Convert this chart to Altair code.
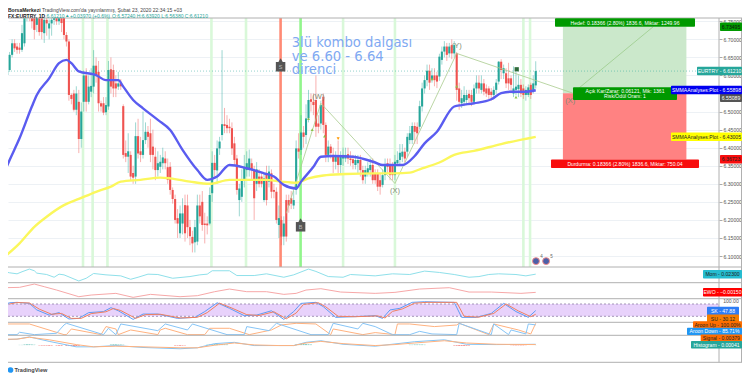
import altair as alt
import pandas as pd

bar_open = [
 6.546,6.601,6.615,6.657,6.689,6.680,6.677,6.671,6.689,6.76,
 6.80,6.78,6.76,6.74,6.76,6.76,6.717,6.754,6.73,6.744,
 6.754,6.76,6.75,6.77,6.76,6.712,6.694,6.546,6.55,6.505,
 6.527,6.424,6.527,6.60,6.527,6.555,6.569,6.627,6.61,6.523,
 6.523,6.498,6.514,6.617,6.615,6.578,6.569,6.578,6.515,6.385,
 6.375,6.38,6.33,6.32,6.432,6.39,6.38,6.421,6.444,6.44,
 6.403,6.375,6.338,6.347,6.357,6.37,6.346,6.347,6.283,6.258,
 6.205,6.163,6.19,6.241,6.24,6.18,6.153,6.138,6.14,6.24,
 6.25,6.19,6.19,6.19,6.274,6.358,6.337,6.398,6.435,6.465,
 6.463,6.458,6.454,6.412,6.37,6.255,6.264,6.31,6.338,6.338,
 6.357,6.338,6.30,6.32,6.32,6.255,6.329,6.306,6.329,6.283,
 6.278,6.186,6.20,6.154,6.255,6.255,6.26,6.24,6.283,6.398,
 6.394,6.442,6.435,6.481,6.534,6.527,6.532,6.467,6.467,6.541,
 6.463,6.38,6.403,6.38,6.361,6.375,6.352,6.37,6.37,6.382,
 6.37,6.368,6.352,6.357,6.366,6.338,6.32,6.329,6.338,6.352,
 6.329,6.329,6.31,6.297,6.324,6.357,6.352,6.352,6.324,6.357,
 6.366,6.375,6.389,6.389,6.421,6.421,6.46,6.458,6.458,6.514,
 6.564,6.587,6.613,6.587,6.60,6.60,6.597,6.643,6.666,6.68,
 6.661,6.684,6.661,6.661,6.564,6.523,6.527,6.532,6.549,6.546,
 6.527,6.564,6.58,6.56,6.578,6.564,6.564,6.555,6.546,6.56,
 6.583,6.638,6.606,6.606,6.592,6.592,6.55,6.56,6.562,6.574,
 6.564,6.546,6.546,6.574,6.56,6.5724]
bar_close = [
 6.601,6.611,6.657,6.689,6.675,6.671,6.671,6.717,6.77,6.79,
 6.77,6.75,6.726,6.76,6.72,6.72,6.754,6.744,6.744,6.754,
 6.76,6.75,6.77,6.745,6.712,6.694,6.546,6.535,6.505,6.55,
 6.424,6.50,6.60,6.527,6.569,6.571,6.627,6.601,6.523,6.514,
 6.497,6.518,6.615,6.569,6.564,6.564,6.578,6.57,6.38,6.375,
 6.39,6.32,6.317,6.432,6.384,6.38,6.421,6.444,6.43,6.38,
 6.38,6.338,6.357,6.361,6.373,6.357,6.311,6.283,6.258,6.20,
 6.19,6.218,6.218,6.163,6.18,6.155,6.135,6.18,6.24,6.21,
 6.186,6.186,6.185,6.269,6.358,6.338,6.398,6.417,6.465,6.46,
 6.454,6.454,6.398,6.366,6.283,6.287,6.31,6.347,6.357,6.37,
 6.338,6.26,6.34,6.30,6.30,6.315,6.255,6.334,6.278,6.278,
 6.20,6.205,6.154,6.19,6.154,6.24,6.245,6.255,6.398,6.389,
 6.442,6.43,6.481,6.532,6.527,6.518,6.458,6.458,6.518,6.463,
 6.38,6.403,6.385,6.361,6.375,6.352,6.375,6.38,6.38,6.37,
 6.366,6.357,6.366,6.366,6.338,6.31,6.338,6.343,6.352,6.31,
 6.31,6.292,6.292,6.324,6.352,6.347,6.324,6.324,6.361,6.366,
 6.386,6.389,6.37,6.43,6.44,6.46,6.444,6.44,6.515,6.564,
 6.587,6.613,6.58,6.60,6.587,6.583,6.652,6.666,6.68,6.657,
 6.68,6.661,6.684,6.56,6.527,6.537,6.546,6.546,6.537,6.527,
 6.564,6.58,6.564,6.578,6.555,6.55,6.546,6.546,6.56,6.58,
 6.638,6.615,6.62,6.578,6.578,6.574,6.564,6.569,6.574,6.55,
 6.546,6.56,6.567,6.546,6.578,6.6121]
bar_high = [
 6.605,6.615,6.665,6.70,6.70,6.69,6.69,6.74,6.80,6.81,
 6.82,6.80,6.78,6.78,6.79,6.78,6.78,6.77,6.755,6.77,
 6.78,6.78,6.79,6.79,6.78,6.72,6.70,6.55,6.56,6.57,
 6.56,6.525,6.61,6.62,6.60,6.62,6.67,6.65,6.64,6.53,
 6.54,6.54,6.64,6.65,6.63,6.60,6.61,6.59,6.52,6.42,
 6.44,6.39,6.35,6.47,6.48,6.43,6.50,6.47,6.46,6.48,
 6.45,6.40,6.39,6.38,6.40,6.39,6.37,6.36,6.29,6.27,
 6.23,6.24,6.26,6.27,6.27,6.20,6.17,6.20,6.27,6.27,
 6.28,6.22,6.21,6.29,6.39,6.38,6.42,6.43,6.67,6.51,
 6.49,6.48,6.47,6.43,6.38,6.30,6.34,6.38,6.39,6.395,
 6.37,6.35,6.36,6.34,6.33,6.33,6.35,6.35,6.34,6.30,
 6.29,6.24,6.21,6.21,6.27,6.27,6.28,6.28,6.42,6.44,
 6.49,6.46,6.52,6.56,6.55,6.55,6.60,6.49,6.53,6.55,
 6.47,6.42,6.41,6.40,6.39,6.42,6.39,6.40,6.40,6.40,
 6.39,6.38,6.38,6.38,6.38,6.35,6.35,6.36,6.37,6.37,
 6.34,6.34,6.33,6.34,6.37,6.37,6.37,6.36,6.38,6.39,
 6.41,6.41,6.40,6.44,6.46,6.47,6.47,6.47,6.53,6.58,
 6.60,6.63,6.63,6.62,6.62,6.61,6.66,6.68,6.695,6.69,
 6.69,6.70,6.695,6.665,6.58,6.56,6.57,6.56,6.56,6.56,
 6.575,6.60,6.60,6.60,6.59,6.575,6.57,6.565,6.57,6.59,
 6.64,6.645,6.63,6.62,6.635,6.60,6.625,6.61,6.60,6.59,
 6.575,6.57,6.575,6.58,6.60,6.6392]
bar_low = [
 6.543,6.598,6.61,6.65,6.665,6.66,6.66,6.665,6.68,6.75,
 6.75,6.73,6.70,6.72,6.71,6.70,6.69,6.71,6.70,6.71,
 6.74,6.74,6.74,6.72,6.70,6.68,6.53,6.52,6.50,6.49,
 6.385,6.40,6.50,6.50,6.52,6.54,6.55,6.58,6.50,6.50,
 6.49,6.49,6.505,6.55,6.54,6.54,6.56,6.56,6.37,6.36,
 6.33,6.31,6.30,6.30,6.37,6.36,6.37,6.41,6.40,6.36,
 6.34,6.31,6.32,6.33,6.34,6.34,6.30,6.27,6.245,6.19,
 6.15,6.15,6.16,6.14,6.15,6.13,6.11,6.11,6.13,6.19,
 6.17,6.135,6.16,6.185,6.25,6.32,6.30,6.38,6.42,6.44,
 6.44,6.44,6.38,6.35,6.27,6.21,6.25,6.29,6.32,6.32,
 6.31,6.20,6.28,6.29,6.29,6.25,6.24,6.29,6.26,6.26,
 6.19,6.15,6.13,6.13,6.14,6.22,6.23,6.23,6.27,6.37,
 6.38,6.40,6.41,6.47,6.50,6.49,6.43,6.44,6.45,6.44,
 6.36,6.36,6.37,6.33,6.34,6.33,6.33,6.35,6.36,6.355,
 6.35,6.34,6.34,6.33,6.32,6.30,6.30,6.32,6.32,6.30,
 6.30,6.28,6.27,6.29,6.31,6.33,6.31,6.31,6.31,6.35,
 6.35,6.36,6.36,6.375,6.41,6.41,6.41,6.41,6.45,6.50,
 6.55,6.57,6.56,6.58,6.57,6.565,6.585,6.63,6.65,6.64,
 6.65,6.645,6.65,6.53,6.505,6.51,6.515,6.52,6.52,6.515,
 6.52,6.55,6.55,6.55,6.545,6.54,6.535,6.53,6.54,6.55,
 6.575,6.59,6.59,6.565,6.56,6.555,6.54,6.545,6.54,6.54,
 6.535,6.53,6.54,6.535,6.55,6.5638]

blue_day = [0,2,6,11,13,18,22,25,27,30,37,41,46,48,52,56,62,67,72,78,82,86,91,98,105,109,113,118,120,125,128,133,141,150,153,157,161,166,170,175,182,185,190,197,201,205,211,215]
blue_val = [6.334,6.366,6.426,6.514,6.546,6.592,6.634,6.643,6.634,6.611,6.601,6.587,6.587,6.569,6.532,6.509,6.477,6.449,6.394,6.338,6.311,6.320,6.352,6.343,6.329,6.320,6.297,6.287,6.306,6.347,6.375,6.377,6.375,6.359,6.352,6.352,6.352,6.377,6.412,6.444,6.514,6.518,6.523,6.534,6.551,6.555,6.555,6.559]
yellow_day = [0,6,12,17,24,30,37,43,47,55,63,67,75,83,91,98,106,112,118,123,129,138,150,158,164,169,176,182,190,201,215]
yellow_val = [6.098,6.135,6.181,6.209,6.241,6.258,6.278,6.292,6.306,6.311,6.317,6.315,6.306,6.30,6.311,6.311,6.311,6.306,6.303,6.315,6.323,6.327,6.329,6.329,6.331,6.343,6.359,6.38,6.391,6.41,6.43]
wave_day = [114,128,158,183,230]
wave_val = [6.218,6.523,6.301,6.661,6.551]
wave_text = ["(W)","(X)","(Y)","(X)"]
wave_text_day = [127,158,183,229]
wave_text_val = [6.539,6.281,6.682,6.53]
target_day = [230,262.6]
target_val = [6.551,6.735]

mom_day = [0,2,5,7,10,12,13,17,20,22,24,30,33,36,41,47,51,54,58,62,68,75,79,82,84,91,94,101,106,113,117,123,126,131,137,140,150,157,164,170,176,182,188,192,196,200,207,211,215]
mom_val = [0.051,0.039,0.027,0.051,0.083,0.063,0.035,0.019,-0.013,0.023,0.015,-0.057,-0.025,0.031,0.015,0.003,-0.037,-0.013,0.023,0.019,-0.025,-0.005,0.015,0.023,0.063,0.063,0.007,0.007,0.027,-0.013,0.015,0.083,0.055,-0.005,-0.013,0.019,0.003,0.027,0.019,0.059,0.043,0.019,-0.013,-0.005,0.019,0.027,0.019,0.003,0.023]
ewo_day = [0,6,12,16,21,30,35,45,52,59,71,78,85,91,98,106,113,118,122,128,136,150,158,168,180,188,197,209,215]
ewo_val = [0.0545,0.0585,0.0985,0.0665,0.0265,-0.0535,-0.0335,-0.0135,-0.0615,-0.0255,-0.0535,-0.0415,0.0065,0.0385,0.0065,0.0065,-0.0255,-0.0135,0.0265,0.0425,0.0025,-0.0135,-0.0015,0.0385,0.0545,0.0025,0.0025,-0.0135,-0.0015]
sk_day = [0,2,5,10,13,18,22,26,30,34,40,43,46,52,56,62,70,77,81,86,91,97,102,108,113,117,120,126,129,134,141,150,153,156,160,165,170,182,185,191,197,202,207,212,215]
sk_val = [78,86,88,83,51,26,38,7,10,38,43,62,47,5,31,31,10,15,43,86,59,23,26,47,5,43,83,88,67,15,18,23,10,51,59,88,91,88,15,15,34,83,43,15,48]
su_day = [2,5,10,14,19,23,27,31,35,41,44,47,53,57,63,71,78,82,87,92,98,103,109,114,118,121,127,130,135,142,151,154,157,161,166,171,183,186,192,198,203,208,213,215]
su_val = [80,87,85,55,30,34,10,10,33,42,58,48,10,28,30,12,15,38,84,60,28,24,42,8,36,78,86,66,20,18,22,12,44,56,84,88,88,20,16,34,80,46,18,30]
up_day = [0,1,10,24,25,27,39,41,45,46,51,62,63,65,74,81,83,91,99,108,112,118,126,132,133,145,150,158,159,164,174,183,184,196,198,208,213,215]
up_val = [79,94,94,0,0,50,0,71,50,0,41,0,41,56,0,0,56,56,0,41,85,100,94,0,50,0,18,0,94,94,71,85,100,0,94,41,6,100]
down_day = [0,5,6,12,21,24,25,40,42,45,47,62,65,74,76,90,97,98,107,110,124,131,133,143,145,150,157,164,168,173,183,184,197,198,204,205,211,212,215]
down_val = [0,0,21,0,12,85,100,0,56,0,94,35,94,41,94,0,0,71,35,100,0,0,100,50,100,71,0,0,29,6,0,100,0,94,0,41,6,94,86]
signal_day = [0,5,10,18,29,36,45,56,71,78,85,93,101,111,117,122,128,137,150,158,166,178,187,199,215]
signal_val = [.037,.037,.049,.033,.003,-.011,-.007,-.011,-.017,-.017,-.001,.013,.001,-.003,-.003,.013,.023,.009,-.003,.003,.013,.027,.013,.005,.003]
macd_val = [.033,.037,.051,.023,-.011,-.011,-.003,-.015,-.023,-.017,.009,.017,-.003,-.003,-.003,.017,.027,.005,-.007,.007,.021,.033,.005,.003,.005]
hist_day = [6,7,8,9,10,11,12,14,15,16,17,18,19,21,22,23,25,26,27,28,29,30,43,44,45,46,47,48,69,70,71,72,73,82,83,84,85,86,87,88,89,90,118,119,120,121,122,123,124,164,165,166,167,168,169,170,182,183,184,185,186,187,188,205,206,207,208,209,210,211,215]
hist_val = [.001,.001,.003,.004,.004,.003,.002,-.002,-.003,-.003,-.003,-.004,-.003,-.003,-.004,-.004,-.005,-.006,-.006,-.006,-.006,-.004,.003,.004,.004,.003,.003,.002,-.003,-.003,-.004,-.003,-.002,.002,.003,.004,.005,.005,.004,.005,.004,.003,.003,.004,.005,.005,.005,.004,.003,.002,.002,.003,.003,.003,.003,.002,-.003,-.004,-.005,-.005,-.005,-.004,-.003,-.001,-.002,-.002,-.002,-.002,-.002,-.001,.0004]

band_day = [31.7,35.6,41.6,83.7,97.7,137,158,210,212.7,111.7,119.8]
band_kind = ["soft"]*9 + ["sell","buy"]
tick_days = [4.7,27.7,48,71.2,92.8,113.9,137,158,179,201,221,243,265,286]
tick_names = ["May","Haz","Tem","Ağu","Eyl","Eki","Kas","Ara","2020","Şub","Mar","Nis","May","Haz"]
price_ticks = [6.10,6.15,6.20,6.25,6.30,6.35,6.40,6.45,6.50,6.55,6.60,6.65,6.70,6.75]
up_marks = [(123,6.480),(124.5,6.45),(129.5,6.432),(183,6.57),(173,6.59),(207,6.54)]
down_marks = [(135,6.425)]

W, H = 711, 333
FONT = "Liberation Sans"
SMALL = 5.1
RED, GREEN = "#ef5350", "#26a69a"

def px(orig): return orig - 8
def py(orig): return orig - 18

x_scale = alt.Scale(domain=[1.336, 289.2], nice=False, zero=False)
price_scale = alt.Scale(domain=[6.0697, 6.759], range=[249, 0], nice=False, zero=False)
mom_scale = alt.Scale(domain=[-0.077, 0.107], range=[264.7, 249], nice=False, zero=False)
ewo_scale = alt.Scale(domain=[-0.0775, 0.1145], range=[280.7, 264.7], nice=False, zero=False)
stoch_scale = alt.Scale(domain=[-9.2, 105.8], range=[304.3, 280.7], nice=False, zero=False)
aroon_scale = alt.Scale(domain=[-5.9, 108.8], range=[317.3, 304.3], nice=False, zero=False)
macd_scale = alt.Scale(domain=[-0.037, 0.061], range=[333, 317.3], nice=False, zero=False)

def X(f="i"): return alt.X(f + ":Q", scale=x_scale, axis=None, title=None)
def Y(f, s): return alt.Y(f + ":Q", scale=s, axis=None, title=None)

one = pd.DataFrame({"a": [0]})
layers = []

# vertical signal bands (also carries the axes)
bands = pd.DataFrame({"i": band_day, "kind": band_kind, "lo": 6.0697, "hi": 6.759})
layers.append(alt.Chart(bands).mark_rule(strokeWidth=2.6).encode(
    x=alt.X("i:Q", scale=x_scale, title=None, axis=alt.Axis(
        values=tick_days, grid=True, gridColor="#eef3f7", gridWidth=1, domain=False,
        tickSize=2, tickColor="#aaaaaa", labelFont=FONT, labelFontSize=5.1, labelColor="#555555",
        labelPadding=2,
        labelExpr="{" + ",".join(f"'{d}':'{n}'" for d, n in zip(tick_days, tick_names) ) + "}[''+datum.value]")),
    y=alt.Y("lo:Q", scale=price_scale, title=None, axis=alt.Axis(
        orient="right", values=price_ticks, grid=True, gridColor="#edf1f5", gridWidth=1,
        domain=False, tickSize=3, tickColor="#aaaaaa", labelFont=FONT, labelFontSize=SMALL,
        labelColor="#555555", labelPadding=1,
        labelExpr="abs(datum.value-6.55)<0.001 ? '' : format(datum.value,'.5f')")),
    y2="hi:Q",
    color=alt.Color("kind:N", legend=None, scale=alt.Scale(
        domain=["soft", "sell", "buy"], range=["#d9f8d9", "#ff8a75", "#92f58c"]))))

# position tool
pos = pd.DataFrame({"a": [226, 226], "b": [276, 276], "t": [6.735, 6.551], "e": [6.551, 6.367], "c": ["#cbe8cb", "#ff8282"]})
layers.append(alt.Chart(pos).mark_rect().encode(
    x=X("a"), x2="b:Q", y=Y("t", price_scale), y2="e:Q",
    color=alt.Color("c:N", scale=None)))

# candles
bars = pd.DataFrame({"i": range(len(bar_open)), "o": bar_open, "h": bar_high, "l": bar_low, "c": bar_close})
col = alt.condition("datum.c >= datum.o", alt.value(GREEN), alt.value(RED))
layers.append(alt.Chart(bars).mark_rule(strokeWidth=0.9, opacity=0.5, clip=True).encode(
    x=X(), y=Y("l", price_scale), y2="h:Q", color=col))
layers.append(alt.Chart(bars).mark_rule(strokeWidth=2.1, clip=True).encode(
    x=X(), y=Y("o", price_scale), y2="c:Q", color=col))

# last price line
layers.append(alt.Chart(pd.DataFrame({"p": [6.6121]})).mark_rule(
    strokeWidth=0.7, color=GREEN, strokeDash=[1, 2], opacity=0.7).encode(
    x=alt.value(0), x2=alt.value(W), y=Y("p", price_scale)))

def line(days, vals, scale, color, width, **kw):
    d = pd.DataFrame({"i": days, "v": vals})
    return alt.Chart(d).mark_line(color=color, strokeWidth=width, clip=True, **kw).encode(x=X(), y=Y("v", scale))

layers.append(line(wave_day, wave_val, price_scale, "#a9cc8e", 0.8))
layers.append(line(target_day, target_val, price_scale, "#9ccb8c", 0.8))
layers.append(line(yellow_day, yellow_val, price_scale, "#fbf75c", 2.4, interpolate="monotone"))
layers.append(line(blue_day, blue_val, price_scale, "#5a5cf0", 2.4, interpolate="monotone"))

# wave labels
layers.append(alt.Chart(pd.DataFrame({"i": wave_text_day, "v": wave_text_val, "t": wave_text})).mark_text(
    font=FONT, fontSize=7.5, color="#7f8a72").encode(x=X(), y=Y("v", price_scale), text="t:N"))

# small arrows and flag
layers.append(alt.Chart(pd.DataFrame(up_marks, columns=["i", "v"])).mark_point(
    shape="triangle-up", filled=True, size=9, color="#8bc34a", opacity=1).encode(x=X(), y=Y("v", price_scale)))
layers.append(alt.Chart(pd.DataFrame(down_marks, columns=["i", "v"])).mark_point(
    shape="triangle-down", filled=True, size=9, color="#ff9800", opacity=1).encode(x=X(), y=Y("v", price_scale)))
layers.append(alt.Chart(pd.DataFrame({"i": [207.3], "v": [6.617]})).mark_point(
    shape="square", filled=True, size=18, color="#2e6b3a", opacity=1).encode(x=X(), y=Y("v", price_scale)))

# S and B tags
sb = pd.DataFrame({"i": [111.7, 119.8], "v": [6.624, 6.181], "t": ["S", "B"], "p": [6.640, 6.197]})
layers.append(alt.Chart(sb).mark_point(shape="square", filled=True, size=90, color="#555555", opacity=1).encode(
    x=X(), y=Y("v", price_scale)))
layers.append(alt.Chart(sb).mark_point(shape="triangle-up", filled=True, size=40, color="#555555", opacity=1).encode(
    x=X(), y=Y("p", price_scale)))
layers.append(alt.Chart(sb).mark_text(font=FONT, fontSize=5.5, color="#bbbbbb").encode(
    x=X(), y=Y("v", price_scale), text="t:N"))

# event icons
ev = pd.DataFrame({"i": [215.1, 219.2], "v": [6.086, 6.086], "t": ["4", "5"], "u": [6.098, 6.098], "j": [217.3, 221.4]})
layers.append(alt.Chart(ev).mark_point(shape="circle", filled=True, size=48, color="#4a5fa8",
    stroke="#f08a8a", strokeWidth=1, opacity=1).encode(x=X(), y=Y("v", price_scale)))
layers.append(alt.Chart(ev).mark_text(font=FONT, fontSize=4.5, color="#666666").encode(
    x=X("j"), y=Y("u", price_scale), text="t:N"))

# oscillators
layers.append(line(mom_day, mom_val, mom_scale, "#8fe0ea", 1))
layers.append(line(ewo_day, ewo_val, ewo_scale, "#f7a8a8", 1))
layers.append(alt.Chart(pd.DataFrame({"t": [80], "b": [20]})).mark_rect(color="#e8d2fb").encode(
    x=alt.value(0), x2=alt.value(W), y=Y("t", stoch_scale), y2="b:Q"))
layers.append(alt.Chart(pd.DataFrame({"v": [80, 20]})).mark_rule(
    color="#8f7fa6", strokeWidth=0.8, strokeDash=[2, 2]).encode(x=alt.value(0), x2=alt.value(W), y=Y("v", stoch_scale)))
layers.append(line(sk_day, sk_val, stoch_scale, "#5d9cf5", 1))
layers.append(line(su_day, su_val, stoch_scale, "#f08060", 1))
layers.append(line(up_day, up_val, aroon_scale, "#ffb27f", 1))
layers.append(line(down_day, down_val, aroon_scale, "#86c5f7", 1))
hist = pd.DataFrame({"i": hist_day, "v": hist_val, "z": 0})
layers.append(alt.Chart(hist).mark_rule(strokeWidth=2, opacity=0.75).encode(
    x=X(), y=Y("v", macd_scale), y2="z:Q",
    color=alt.condition("datum.v >= 0", alt.value(GREEN), alt.value(RED))))
layers.append(line(signal_day, macd_val, macd_scale, "#82c4f5", 1))
layers.append(line(signal_day, signal_val, macd_scale, "#ffb27f", 1))

# frame
def hrule(y, a, b, color="#b0b0b0", w=1):
    return alt.Chart(one).mark_rule(color=color, strokeWidth=w).encode(
        x=alt.value(px(a)), x2=alt.value(px(b)), y=alt.value(py(y)))
def vrule(x, a, b, color="#b0b0b0", w=1):
    return alt.Chart(one).mark_rule(color=color, strokeWidth=w).encode(
        x=alt.value(px(x)), y=alt.value(py(a)), y2=alt.value(py(b)))
for yy in [18, 267, 282.7, 298.7, 322.3, 335.3, 362.3]:
    layers.append(hrule(yy, 3, 742))
layers.append(vrule(719, 18, 362.3))
layers.append(vrule(741.5, 18, 362.3))

def box(l, r, t, b, color):
    return alt.Chart(one).mark_rect(color=color, cornerRadius=1).encode(
        x=alt.value(px(l)), x2=alt.value(px(r)), y=alt.value(py(t)), y2=alt.value(py(b)))
def label(text, x, y, color="#ffffff", size=SMALL, align="center", weight="normal", font=FONT):
    return alt.Chart(one).mark_text(text=text, font=font, fontSize=size, color=color, align=align,
        baseline="middle", fontWeight=weight).encode(x=alt.value(px(x)), y=alt.value(py(y)))
def tag(text, l, r, y, bg, fg="#ffffff", h=4.2):
    return [box(l, r, y - h, y + h, bg), label(text, (l + r) / 2, y, fg)]

layers += tag("Hedef: 0.18366 (2.80%) 1836.6, Miktar: 1249.96", 555, 695, 22.5, "#009900")
layers += tag("Durdurma: 0.18366 (2.80%) 1836.6, Miktar: 750.04", 551, 699, 163.8, "#f80d0d")
layers.append(box(573, 677, 87.3, 100, "#009900"))
layers.append(label("Açık Kar/Zarar: 0.06121, Mik: 1361", 625, 90.7))
layers.append(label("Risk/Ödül Oranı: 1", 625, 96))

layers += tag("6.73495", 720, 742, 26.7, "#009900", "#111111")
layers += tag("EURTRY - 6.61210", 697, 742, 71, GREEN)
layers += tag("6.55089", 720, 742, 97.7, "#555555")
layers += tag("SMMAAnalyses:Plot - 6.55898", 671, 742, 90, "#0000f0")
layers += tag("SMMAAnalyses:Plot - 6.43005", 671, 742, 136.7, "#ffff00", "#222222")
layers += tag("6.36723", 720, 742, 159.3, "#f80d0d", "#222222")
layers += tag("Mom - 0.02300", 703, 742, 274.3, "#26bcd0", "#222222")
layers += tag("EWO - −0.00150", 703, 742, 292.3, "#ff0000")
layers.append(label("100.00", 731, 300.7, "#555555"))
layers += tag("SK - 47.88", 707, 739, 311, "#2d7df5")
layers += tag("SU - 30.12", 707, 739, 318.6, "#f57c00", "#222222")
layers += tag("Aroon Up - 100.00%", 693, 742, 324.6, "#ff6d00", "#222222", h=3.4)
layers += tag("Aroon Down - 85.71%", 687, 742, 331.3, "#2196f3", h=3.6)
layers += tag("Signal - 0.00379", 700.7, 742, 337.9, "#ff6d00", "#222222", h=3.4)
layers += tag("Histogram - 0.00041", 691, 742, 344.7, GREEN, h=3.8)

# annotation
ANN = "#7fa9f2"
layers.append(label("3lü kombo dalgası", 291.7, 43, ANN, 13.2, "left", font="DejaVu Sans"))
layers.append(label("ve 6.60 - 6.64", 291.7, 56.7, ANN, 13.2, "left", font="DejaVu Sans"))
layers.append(label("direnci", 291.7, 70, ANN, 13.2, "left", font="DejaVu Sans"))

# header
HEAD = 5.0
layers.append(label("BorsaMerkezi", 8, 10.3, "#222222", HEAD, "left", "bold"))
layers.append(label("TradingView.com'da yayınlanmış, Şubat 23, 2020 22:34:15 +03", 42, 10.3, "#444444", HEAD, "left"))
layers.append(label("FX:EURTRY, 1D", 8, 15.5, "#222222", HEAD, "left", "bold"))
layers.append(label("6.61210", 46.5, 15.5, "#26a69a", HEAD, "left"))
layers.append(label("▲", 65, 15.5, "#26a69a", 4.5, "left"))
layers.append(label("+0.03970 (+0.6%)", 70, 15.5, "#26a69a", HEAD, "left"))
layers.append(label("O:6.57240  H:6.63920  L:6.56380  C:6.61210", 112, 15.5, "#26a69a", HEAD, "left"))

# footer
layers.append(alt.Chart(one).mark_point(shape="circle", filled=True, size=32, color="#2196f3", opacity=1).encode(
    x=alt.value(px(10.5)), y=alt.value(py(370))))
layers.append(label("TradingView", 14.5, 370, "#444444", 5.6, "left", "bold"))

chart = alt.layer(*layers).resolve_scale(y="independent").properties(
    width=W, height=H,
    padding={"left": 0, "top": 10, "right": 23, "bottom": 24},
    autosize=alt.AutoSizeParams(type="none"),
    background="#ffffff",
).configure_view(stroke=None)

chart.save("out.html", embed_options={"renderer": "svg", "actions": False})
